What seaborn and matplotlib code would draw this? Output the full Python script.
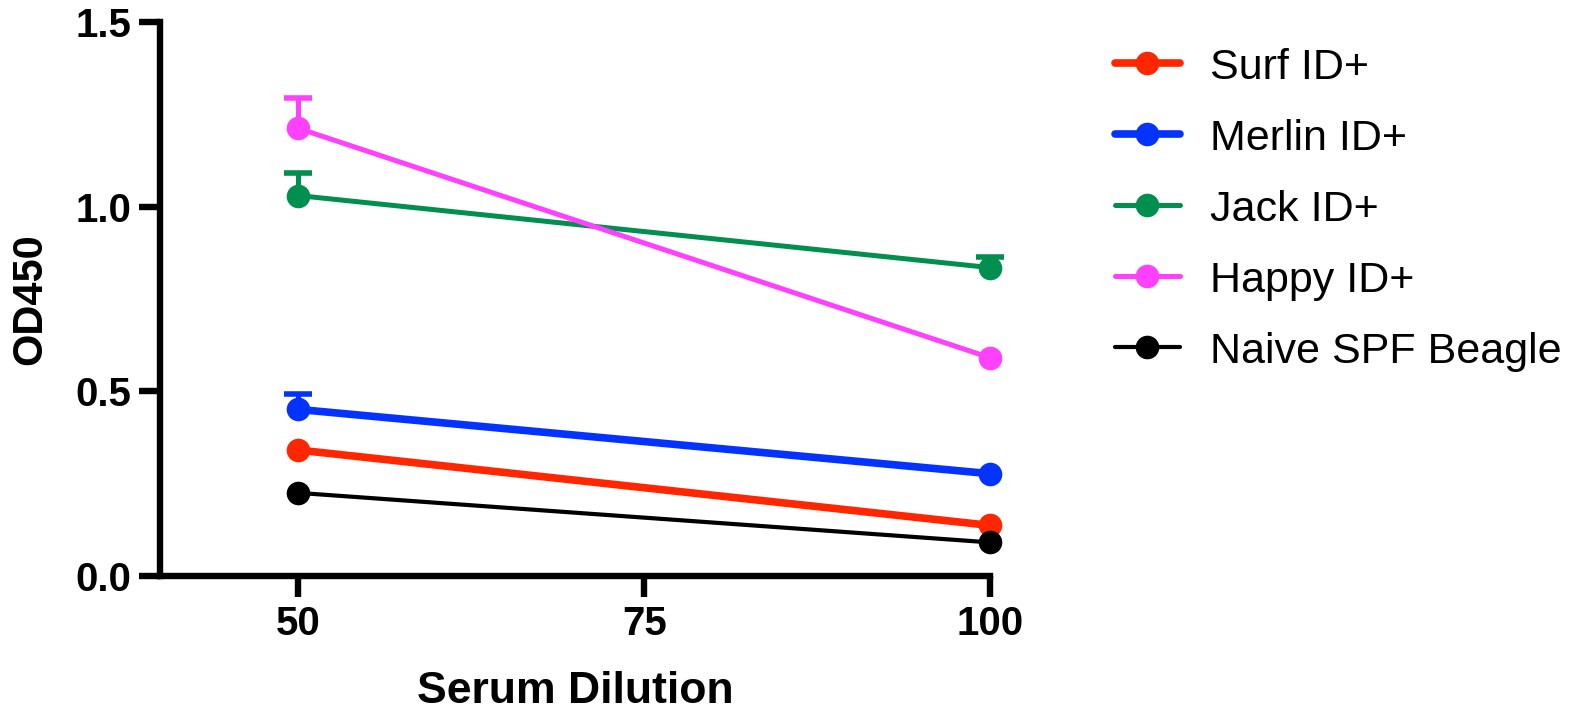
import matplotlib
matplotlib.use("Agg")
import matplotlib.pyplot as plt
import seaborn as sns
import pandas as pd

# data
dilution = [50, 100]
series = ["Surf ID+", "Merlin ID+", "Jack ID+", "Happy ID+", "Naive SPF Beagle"]
surf = [0.341, 0.137]
merlin = [0.451, 0.277]
jack = [1.030, 0.835]
happy = [1.212, 0.591]
naive = [0.225, 0.091]
# upper error (SEM) only; 0 = hidden behind marker
surf_err = [0.0, 0.0]
merlin_err = [0.041, 0.0]
jack_err = [0.062, 0.030]
happy_err = [0.083, 0.0]
naive_err = [0.0, 0.0]

values = [surf, merlin, jack, happy, naive]
errors = [surf_err, merlin_err, jack_err, happy_err, naive_err]
colors = ["#FF2600", "#0433FF", "#008F4F", "#FF40FF", "#000000"]
widths = [5.5, 5.5, 3.6, 3.6, 3.0]

rows = []
for name, vals, errs in zip(series, values, errors):
    for d, v, e in zip(dilution, vals, errs):
        rows.append({"Serum Dilution": d, "OD450": v, "err": e, "group": name})
data = pd.DataFrame(rows)

sns.set_style("ticks")
plt.rcParams["font.family"] = ["Liberation Sans", "DejaVu Sans"]
plt.rcParams["text.color"] = "black"
plt.rcParams["axes.labelcolor"] = "black"
plt.rcParams["xtick.color"] = "black"
plt.rcParams["ytick.color"] = "black"
plt.rcParams["axes.edgecolor"] = "black"

fig = plt.figure(figsize=(15.88, 7.09), dpi=100)
ax = fig.add_axes([0.1008, 0.1876, 0.5226, 0.7814])

for name, col, lw in zip(series, colors, widths):
    sub = data[data["group"] == name]
    bars = sub[sub["err"] > 0]
    if len(bars):
        top = bars["OD450"] + bars["err"]
        ax.vlines(bars["Serum Dilution"], bars["OD450"], top, color=col,
                  linewidth=3.6, clip_on=False, zorder=2)
        ax.plot(bars["Serum Dilution"], top, linestyle="none", marker="_",
                markersize=20, markeredgewidth=4, color=col, clip_on=False,
                zorder=2)
    sns.lineplot(data=sub, x="Serum Dilution", y="OD450", ax=ax, color=col,
                 linewidth=lw, marker="o", markersize=17, markeredgewidth=0,
                 label=name, clip_on=False, zorder=3)

ax.set_xlim(40, 100)
ax.set_ylim(0, 1.5)
ax.set_xticks([50, 75, 100])
ax.set_yticks([0.0, 0.5, 1.0, 1.5])
ax.set_yticklabels(["0.0", "0.5", "1.0", "1.5"])
sns.despine(ax=ax)
for s in ["left", "bottom"]:
    ax.spines[s].set_linewidth(4.6)
    ax.spines[s].set_capstyle("projecting")
ax.tick_params(axis="both", length=15, width=4.6, labelsize=29, pad=6)
for lab in ax.get_xticklabels() + ax.get_yticklabels():
    lab.set_fontweight("bold")
ax.set_xlabel("Serum Dilution", fontsize=32, fontweight="bold", labelpad=20)
ax.set_ylabel("OD450", fontsize=30, fontweight="bold", labelpad=18)

ax.legend(loc="upper left", bbox_to_anchor=(1.13, 0.985), frameon=False,
          fontsize=31, handlelength=1.5, handletextpad=0.7, labelspacing=0.72,
          borderaxespad=0)

fig.savefig("out.png", dpi=100)
